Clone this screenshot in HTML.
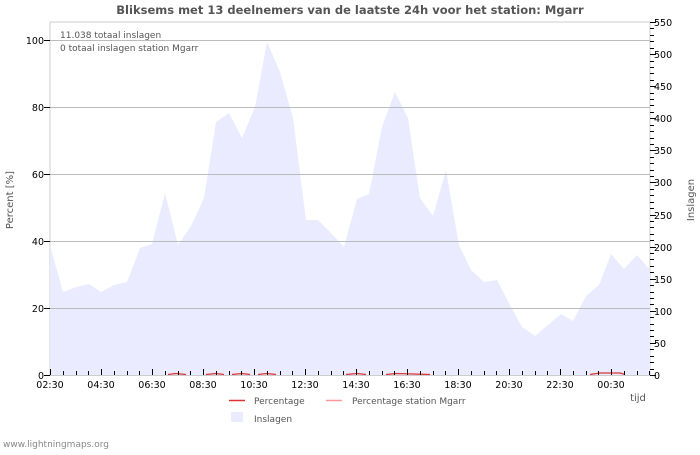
<!DOCTYPE html>
<html><head><meta charset="utf-8"><style>
body{margin:0;background:#fff;}
svg text{font-family:"DejaVu Sans","Liberation Sans",sans-serif;}
</style></head><body>
<svg width="700" height="450" xmlns="http://www.w3.org/2000/svg">
<rect width="700" height="450" fill="#fff"/>
<text x="350" y="14" text-anchor="middle" font-size="11.5" font-weight="bold" fill="#555">Bliksems met 13 deelnemers van de laatste 24h voor het station: Mgarr</text>
<rect x="50" y="22" width="600" height="353" fill="#fff" stroke="#ccc"/>
<polygon fill="#ebebff" points="50,375 50,245 63,292 76,287 89,284 101,292 114,285 127,282 140,248 152,244 165,193 178,245 191,226 204,198 216,122 229,113 242,138 255,107 267,42 280,72 293,118 306,220 318,220 331,233 344,247 357,199 369,194 382,127 395,92 408,118 420,198 433,216 446,170 459,245 471,270 484,282 497,280 510,305 522,327 535,336 548,325 561,314 573,321 586,296 599,285 611,254 624,269 637,255 650,270 650,375"/>
<g stroke="#bbb" stroke-width="1">
<line x1="50" y1="40.5" x2="650" y2="40.5"/>
<line x1="50" y1="107.5" x2="650" y2="107.5"/>
<line x1="50" y1="174.5" x2="650" y2="174.5"/>
<line x1="50" y1="241.5" x2="650" y2="241.5"/>
<line x1="50" y1="308.5" x2="650" y2="308.5"/>
</g>
<g stroke="#d33" stroke-width="1.2" fill="none">
<polyline points="168,374.5 176,373.5 186,374.5"/>
<polyline points="206,374.5 216,373.5 224,374.5"/>
<polyline points="232,374.5 242,373.5 250,374.5"/>
<polyline points="258,374.5 267,373.5 276,374.5"/>
<polyline points="346,374.5 357,373.5 366,374.5"/>
<polyline points="386,374.5 396,373.5 430,374.5"/>
<polyline points="590,374.5 600,373 620,373 625,374.5"/>
</g>
<line x1="50" y1="375.5" x2="650" y2="375.5" stroke="#ccc"/>
<g stroke="#000" stroke-width="1" id="xt"></g>
<g font-size="9.5" fill="#000" text-anchor="end">
<text x="44" y="44">100</text><text x="44" y="111">80</text><text x="44" y="178">60</text><text x="44" y="245">40</text><text x="44" y="312">20</text><text x="44" y="379">0</text>
</g>
<g stroke="#000">
<line x1="44" y1="40.5" x2="50" y2="40.5"/><line x1="44" y1="107.5" x2="50" y2="107.5"/><line x1="44" y1="174.5" x2="50" y2="174.5"/><line x1="44" y1="241.5" x2="50" y2="241.5"/><line x1="44" y1="308.5" x2="50" y2="308.5"/><line x1="44" y1="375.5" x2="50" y2="375.5"/>
</g>
<g id="rt" stroke="#000"></g>
<g font-size="9.5" fill="#000" id="rl"></g>
<g font-size="9.5" fill="#000" text-anchor="middle" id="xl"></g>
<text x="60" y="38" font-size="9" fill="#555">11.038 totaal inslagen</text>
<text x="60" y="51" font-size="9" fill="#555">0 totaal inslagen station Mgarr</text>
<text x="13" y="200" font-size="10" fill="#555" text-anchor="middle" transform="rotate(-90 13 200)">Percent   [%]</text>
<text x="694" y="200" font-size="10" fill="#555" text-anchor="middle" transform="rotate(-90 694 200)">Inslagen</text>
<text x="638" y="401" font-size="10" fill="#555" text-anchor="middle">tijd</text>
<line x1="229" y1="400.5" x2="245" y2="400.5" stroke="#d33" stroke-width="1.5"/>
<text x="254" y="404" font-size="9" fill="#555">Percentage</text>
<line x1="326" y1="400.5" x2="342" y2="400.5" stroke="#f99" stroke-width="1.5"/>
<text x="352" y="404" font-size="9" fill="#555">Percentage station Mgarr</text>
<rect x="231" y="412" width="12" height="10" fill="#ebebff"/>
<text x="254" y="422" font-size="9" fill="#555">Inslagen</text>
<text x="3" y="447" font-size="9" fill="#888">www.lightningmaps.org</text>
<script>
var ns="http://www.w3.org/2000/svg";
var xt=document.getElementById('xt'),xl=document.getElementById('xl');
var lab=["02:30","04:30","06:30","08:30","10:30","12:30","14:30","16:30","18:30","20:30","22:30","00:30"];
for(var i=0;i<=47;i++){var x=Math.round(50+i*12.75)+0.5;var l=document.createElementNS(ns,'line');l.setAttribute('x1',x);l.setAttribute('x2',x);l.setAttribute('y1',i%4==0?369:371);l.setAttribute('y2',375);xt.appendChild(l);
if(i%4==0){var t=document.createElementNS(ns,'text');t.setAttribute('x',50+i*12.75);t.setAttribute('y',388);t.textContent=lab[i/4];xl.appendChild(t);}}
var rt=document.getElementById('rt'),rl=document.getElementById('rl');
for(var v=0;v<=550;v+=10){var y=Math.round(375-v*0.6418)+0.5;var l=document.createElementNS(ns,'line');l.setAttribute('x1',650);l.setAttribute('x2',v%50==0?656:654);l.setAttribute('y1',y);l.setAttribute('y2',y);rt.appendChild(l);
if(v%50==0){var t=document.createElementNS(ns,'text');t.setAttribute('x',654);t.setAttribute('y',y+3.5);t.textContent=v;rl.appendChild(t);}}
</script>
</svg>
</body></html>
